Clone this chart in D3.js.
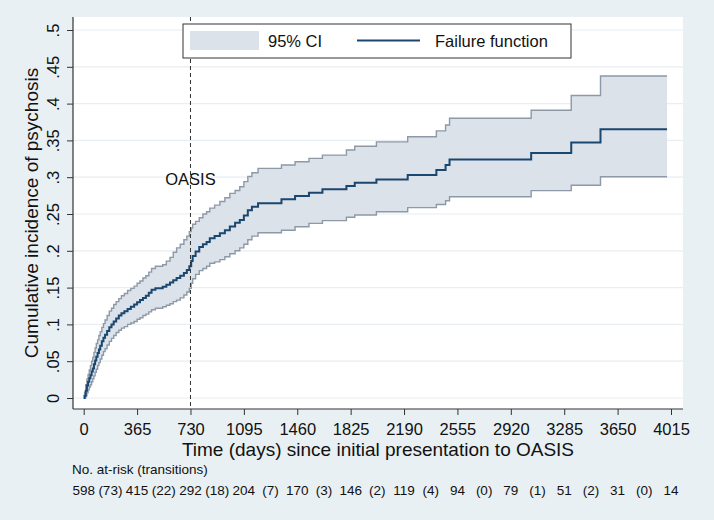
<!DOCTYPE html>
<html>
<head>
<meta charset="utf-8">
<script src="https://cdn.jsdelivr.net/npm/d3@7"></script>
<style>
  body { margin: 0; background: #e9f0f3; }
  svg { display: block; font-family: "Liberation Sans", Arial, Helvetica, sans-serif; }
</style>
</head>
<body>
<svg id="chart" width="714" height="520"></svg>
<script>
// KM failure estimate with 95% CI
var days = [0, 6, 14, 22, 30, 38, 46, 54, 62, 70, 78, 86, 95, 104, 113, 124, 135, 146, 160, 175,
  190, 205, 222, 240, 258, 278, 300, 322, 345, 365, 385, 405, 425, 445, 464, 490, 540, 565, 590, 612,
  635, 660, 685, 705, 722, 735, 745, 765, 790, 815, 840, 862, 895, 931, 965, 999, 1035, 1067, 1095, 1122,
  1150, 1192, 1352, 1445, 1540, 1632, 1796, 1853, 2001, 2215, 2411, 2474, 2501, 3059, 3333, 3533, 3988];
var failure = [0, .003, .010, .017, .022, .027, .031, .036, .040, .046, .051, .056, .061, .066, .071, .077, .082, .086, .091, .096,
  .100, .104, .108, .112, .115, .118, .121, .124, .127, .130, .133, .136, .139, .143, .147, .149, .151, .154, .157, .160,
  .163, .166, .170, .174, .179, .186, .193, .199, .205, .209, .212, .217, .220, .224, .228, .233, .238, .242, .248, .255,
  .260, .2645, .270, .2745, .279, .2835, .288, .2925, .297, .303, .3098, .3166, .324, .333, .347, .365, .365];
var lower = [0, 0, .003, .007, .011, .015, .018, .022, .026, .030, .035, .039, .044, .048, .053, .058, .063, .067, .072, .077,
  .081, .085, .089, .092, .095, .097, .100, .102, .104, .107, .109, .112, .114, .117, .120, .122, .124, .126, .128, .131,
  .133, .136, .140, .144, .149, .156, .162, .168, .173, .176, .179, .183, .185, .188, .192, .196, .200, .204, .209, .215,
  .220, .2246, .228, .2327, .2373, .241, .2455, .2486, .253, .2586, .263, .268, .2735, .2817, .289, .3007, .3007];
var upper = [0, .008, .018, .026, .032, .038, .044, .050, .055, .062, .068, .074, .079, .085, .090, .096, .101, .106, .112, .118,
  .122, .127, .131, .135, .139, .142, .146, .149, .152, .156, .159, .163, .166, .171, .176, .179, .181, .186, .191, .198,
  .204, .209, .215, .220, .226, .231, .236, .240, .245, .250, .253, .258, .262, .267, .272, .278, .282, .287, .294, .301,
  .306, .312, .3166, .321, .3256, .330, .337, .342, .348, .355, .363, .371, .380, .391, .411, .4375, .4375];

var xTicks = [0, 365, 730, 1095, 1460, 1825, 2190, 2555, 2920, 3285, 3650, 4015];
var yTicks = [0, .05, .1, .15, .2, .25, .3, .35, .4, .45, .5];
var yTickLabels = ["0", ".05", ".1", ".15", ".2", ".25", ".3", ".35", ".4", ".45", ".5"];
var atRisk = [598, 415, 292, 204, 170, 146, 119, 94, 79, 51, 31, 14];
var transitions = [73, 22, 18, 7, 3, 2, 4, 0, 1, 2, 0];

var svg = d3.select('#chart');

// plot region
var plotL = 73, plotR = 683, plotT = 17, plotB = 409;

var x = d3.scaleLinear().domain([0, 4015]).range([83.7, 671]);
var y = d3.scaleLinear().domain([0, 0.5]).range([398, 30]);

svg.append('rect')
    .attr('x', plotL).attr('y', plotT)
    .attr('width', plotR - plotL).attr('height', plotB - plotT)
    .style('fill', '#ffffff');

// gridlines
svg.append('g').selectAll('line').data(yTicks)
    .enter().append('line')
    .attr('x1', plotL).attr('x2', plotR)
    .attr('y1', function(d) { return y(d); })
    .attr('y2', function(d) { return y(d); })
    .style('stroke', '#e8eef1').style('stroke-width', 1.2);

var pts = days.map(function(d, i) {
    return { t: d, f: failure[i], lo: lower[i], hi: upper[i] };
});

// CI band
var band = d3.area().curve(d3.curveStepAfter)
    .x(function(d) { return x(d.t); })
    .y0(function(d) { return y(d.lo); })
    .y1(function(d) { return y(d.hi); });

svg.append('path').datum(pts)
    .attr('d', band)
    .style('fill', '#dce2ea');

var edge = function(key) {
    return d3.line().curve(d3.curveStepAfter)
        .x(function(d) { return x(d.t); })
        .y(function(d) { return y(d[key]); });
};

svg.append('path').datum(pts).attr('d', edge('hi'))
    .style('fill', 'none').style('stroke', '#8d99a6').style('stroke-width', 1.4);
svg.append('path').datum(pts).attr('d', edge('lo'))
    .style('fill', 'none').style('stroke', '#8d99a6').style('stroke-width', 1.4);
svg.append('path').datum(pts).attr('d', edge('f'))
    .style('fill', 'none').style('stroke', '#1a476f').style('stroke-width', 2);

// OASIS reference line
svg.append('line')
    .attr('x1', x(730)).attr('x2', x(730))
    .attr('y1', plotT).attr('y2', plotB)
    .style('stroke', '#333').style('stroke-width', 1)
    .style('stroke-dasharray', '4,3');

svg.append('text')
    .attr('x', x(730)).attr('y', y(0.29))
    .attr('text-anchor', 'middle')
    .style('font-size', '16.5px').style('fill', '#111')
    .text('OASIS');

// axes
var xAxis = svg.append('g')
    .attr('transform', 'translate(0,' + plotB + ')')
    .call(d3.axisBottom(x).tickValues(xTicks).tickSize(6).tickSizeOuter(0).tickPadding(8)
        .tickFormat(d3.format('d')));
xAxis.select('.domain').remove();
xAxis.selectAll('.tick line').style('stroke', '#333');
xAxis.selectAll('.tick text')
    .style('font-size', '16.5px').style('fill', '#111')
    .style('font-family', '"Liberation Sans", Arial, sans-serif');

var yAxis = svg.append('g')
    .attr('transform', 'translate(' + plotL + ',0)')
    .call(d3.axisLeft(y).tickValues(yTicks).tickSize(6).tickSizeOuter(0)
        .tickFormat(function(d, i) { return yTickLabels[i]; }));
yAxis.select('.domain').remove();
yAxis.selectAll('.tick line').style('stroke', '#333');
yAxis.selectAll('.tick text')
    .attr('x', null).attr('dy', null)
    .attr('text-anchor', 'middle')
    .attr('transform', 'translate(-14,0) rotate(-90)')
    .style('font-size', '16.5px').style('fill', '#111')
    .style('font-family', '"Liberation Sans", Arial, sans-serif');

svg.append('line')
    .attr('x1', plotL).attr('x2', plotR).attr('y1', plotB).attr('y2', plotB)
    .style('stroke', '#333').style('stroke-width', 1.2);
svg.append('line')
    .attr('x1', plotL).attr('x2', plotL).attr('y1', plotT).attr('y2', plotB)
    .style('stroke', '#333').style('stroke-width', 1.2);

// axis titles
svg.append('text')
    .attr('x', (plotL + plotR) / 2).attr('y', 456)
    .attr('text-anchor', 'middle')
    .style('font-size', '19px').style('fill', '#111')
    .text('Time (days) since initial presentation to OASIS');

svg.append('text')
    .attr('transform', 'translate(37.5,' + (plotT + plotB) / 2 + ') rotate(-90)')
    .attr('text-anchor', 'middle')
    .style('font-size', '19px').style('fill', '#111')
    .text('Cumulative incidence of psychosis');

// risk table
svg.append('text')
    .attr('x', 72).attr('y', 474)
    .style('font-size', '13.5px').style('fill', '#111')
    .text('No. at-risk (transitions)');

svg.append('g').selectAll('text').data(atRisk)
    .enter().append('text')
    .attr('x', function(d, i) { return x(xTicks[i]); })
    .attr('y', 495)
    .attr('text-anchor', 'middle')
    .style('font-size', '13.5px').style('fill', '#111')
    .text(function(d) { return d; });

svg.append('g').selectAll('text').data(transitions)
    .enter().append('text')
    .attr('x', function(d, i) { return (x(xTicks[i]) + x(xTicks[i + 1])) / 2; })
    .attr('y', 495)
    .attr('text-anchor', 'middle')
    .style('font-size', '13.5px').style('fill', '#111')
    .text(function(d) { return '(' + d + ')'; });

// legend
var lg = svg.append('g');
lg.append('rect')
    .attr('x', 183).attr('y', 24).attr('width', 388).attr('height', 34)
    .style('fill', '#fff').style('stroke', '#333').style('stroke-width', 1);
lg.append('rect')
    .attr('x', 190).attr('y', 31).attr('width', 69).attr('height', 19)
    .style('fill', '#dce2ea');
lg.append('text')
    .attr('x', 268).attr('y', 47)
    .style('font-size', '16.5px').style('fill', '#111')
    .text('95% CI');
lg.append('line')
    .attr('x1', 357).attr('x2', 420).attr('y1', 40.5).attr('y2', 40.5)
    .style('stroke', '#1a476f').style('stroke-width', 2);
lg.append('text')
    .attr('x', 435).attr('y', 47)
    .style('font-size', '16.5px').style('fill', '#111')
    .text('Failure function');
</script>
</body>
</html>
